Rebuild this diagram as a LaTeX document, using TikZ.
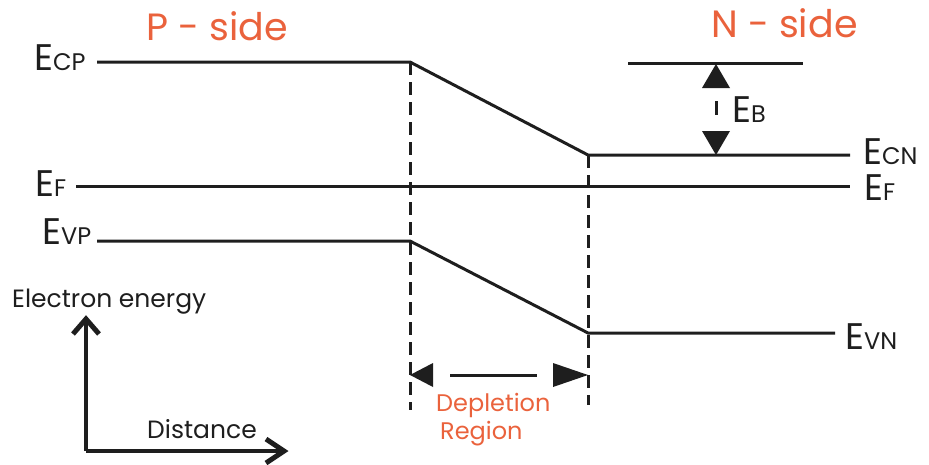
\documentclass[tikz,border=0pt]{standalone}
\usepackage{fontspec}
\setmainfont{Poppins}
\usetikzlibrary{arrows.meta}
\definecolor{orng}{RGB}{234,98,60}
\definecolor{ink}{RGB}{30,30,30}
\newcommand{\lvlE}[1]{{\fontsize{37}{37}\selectfont E}{\fontsize{24}{24}\selectfont #1}}
\begin{document}
\begin{tikzpicture}[x=1pt,y=-1pt,
  band/.style={draw=ink, line width=3pt},
  dsh/.style={draw=ink, line width=3pt, dash pattern=on 13pt off 7pt},
  lab/.style={anchor=base west, inner sep=0pt, text=ink},
  side/.style={anchor=base west, inner sep=0pt, text=orng, font=\fontsize{38}{38}\selectfont},
  small/.style={anchor=base west, inner sep=0pt, text=ink, font=\fontsize{25}{25}\selectfont},
  dep/.style={anchor=base west, inner sep=0pt, text=orng, font=\fontsize{24}{24}\selectfont},
  axis/.style={draw=ink, line width=3.4pt},
  chev/.style={draw=ink, line width=5pt, line join=miter, line cap=butt},
  tri/.style={fill=ink}]
\useasboundingbox (0,0) rectangle (929,464);

% titles
\node[side] (pside) at (146,40) {P - side};
\node[side] (nside) at (711,37) {N - side};

% level labels
\node[lab] (ecp) at (34,70) {\lvlE{CP}};
\node[lab] (efl) at (35,196) {\lvlE{F}};
\node[lab] (evp) at (42,244) {\lvlE{VP}};
\node[lab] (ecn) at (863,164) {\lvlE{CN}};
\node[lab] (efr) at (864,200) {\lvlE{F}};
\node[lab] (evn) at (845,349) {\lvlE{VN}};
\node[lab] (eb)  at (732,122) {\lvlE{B}};

% coordinates
\coordinate (c1) at (97,62);
\coordinate (c2) at (410,62);
\coordinate (c3) at (588,155);
\coordinate (c4) at (850,155);
\coordinate (f1) at (76,186);
\coordinate (f2) at (850,186);
\coordinate (v1) at (97,241);
\coordinate (v2) at (410,241);
\coordinate (v3) at (588,333);
\coordinate (v4) at (835,333);
\coordinate (t1) at (628,63);
\coordinate (t2) at (803,63);
\coordinate (d1b) at (410,410);
\coordinate (d2b) at (588,405);

% bands
\draw[band] (c1) -- (c2) -- (c3) -- (c4);
\draw[band] (f1) -- (f2);
\draw[band] (v1) -- (v2) -- (v3) -- (v4);
\draw[band] (t1) -- (t2);

% dashed boundaries
\draw[dsh] (c2) -- (d1b);
\draw[dsh] (c3) -- (d2b);

% barrier arrow
\fill[tri] (716,64) -- (702,88) -- (730,88) -- cycle;
\fill[tri] (716,155) -- (702,131) -- (730,131) -- cycle;
\coordinate (eb1) at (716,101);
\coordinate (eb2) at (716,115);
\draw[band] (eb1) -- (eb2);

% depletion arrow
\fill[tri] (410,375) -- (433,363) -- (433,387) -- cycle;
\fill[tri] (588,375) -- (553,363) -- (553,387) -- cycle;
\coordinate (dl1) at (450,375);
\coordinate (dl2) at (537,375);
\draw[band] (dl1) -- (dl2);
\node[dep] (depl) at (436,411) {Depletion};
\node[dep] (regn) at (440,439) {Region};

% axes
\coordinate (o) at (86,451);
\coordinate (ya) at (86,322);
\coordinate (xa) at (282,451);
\draw[axis] (o) -- (ya);
\draw[axis] (o) -- (xa);
\draw[chev] (73,334) -- (86,319) -- (99,334);
\draw[chev] (266,439) -- (284,451) -- (266,463);
\node[small] (ee) at (12,307) {Electron energy};
\node[small] (dist) at (147,438) {Distance};
\end{tikzpicture}
\end{document}
